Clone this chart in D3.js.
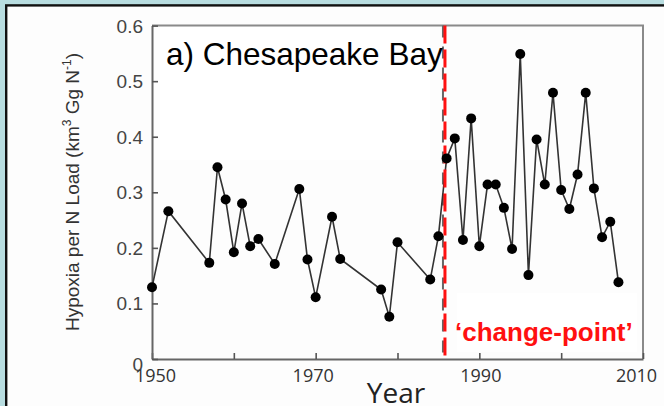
<!DOCTYPE html>
<html>
<head>
<meta charset="utf-8">
<script src="https://cdn.jsdelivr.net/npm/d3@7"></script>
<style>
  html, body { margin: 0; padding: 0; background: #b8dde0; }
  svg { display: block; }
</style>
</head>
<body>
<svg id="chart" width="664" height="406"></svg>
<script>
// Hypoxic volume per unit nitrogen load, Chesapeake Bay
const years = [1950, 1952, 1957, 1958, 1959, 1960, 1961, 1962, 1963, 1965,
               1968, 1969, 1970, 1972, 1973, 1978, 1979, 1980, 1984, 1985,
               1986, 1987, 1988, 1989, 1990, 1991, 1992, 1993, 1994, 1995,
               1996, 1997, 1998, 1999, 2000, 2001, 2002, 2003, 2004, 2005,
               2006, 2007];
const hypoxiaPerLoad = [0.129, 0.266, 0.173, 0.345, 0.287, 0.192, 0.280, 0.203, 0.216, 0.171,
                        0.306, 0.179, 0.111, 0.256, 0.180, 0.125, 0.076, 0.210, 0.143, 0.221,
                        0.361, 0.397, 0.214, 0.433, 0.203, 0.314, 0.314, 0.272, 0.198, 0.549,
                        0.151, 0.395, 0.314, 0.479, 0.304, 0.270, 0.332, 0.479, 0.307, 0.219,
                        0.247, 0.138];
const xTicks = [1950, 1960, 1970, 1980, 1990, 2000, 2010];
const xTickLabels = ["1950", "", "1970", "", "1990", "", "2010"];
const yTicks = [0, 0.1, 0.2, 0.3, 0.4, 0.5, 0.6];
const yTickLabels = ["0", "0.1", "0.2", "0.3", "0.4", "0.5", "0.6"];
const changePointYear = 1985.8;

const svg = d3.select("#chart");

// white panel with black frame
svg.append("rect")
  .attr("x", 6.2).attr("y", 5.4)
  .attr("width", 700).attr("height", 500)
  .attr("fill", "#fdfdfd")
  .attr("stroke", "#111").attr("stroke-width", 2.4);

const plot = { left: 152, right: 643, top: 25.6, bottom: 359 };

const x = d3.scaleLinear().domain([1950, 2010]).range([plot.left, plot.right]);
const y = d3.scaleLinear().domain([0, 0.6]).range([plot.bottom, plot.top]);

// white backing boxes behind the annotations
svg.append("rect").attr("x", 160).attr("y", 27).attr("width", 270).attr("height", 133).attr("fill", "#fff");
svg.append("rect").attr("x", 457).attr("y", 293).attr("width", 180).attr("height", 59).attr("fill", "#fff");

// plot frame (top and right sides)
svg.append("path")
  .attr("d", `M${plot.left},${plot.top}H${plot.right}V${plot.bottom}`)
  .attr("fill", "none").attr("stroke", "#8a8a8a").attr("stroke-width", 2);

// x axis
const xAxis = d3.axisBottom(x)
  .tickValues(xTicks)
  .tickFormat((d, i) => xTickLabels[i])
  .tickSizeInner(-6).tickSizeOuter(0).tickPadding(10);
const gx = svg.append("g")
  .attr("transform", `translate(0,${plot.bottom})`)
  .call(xAxis);
gx.select(".domain").attr("stroke", "#666").attr("stroke-width", 2);
gx.selectAll(".tick line").attr("stroke", "#555").attr("stroke-width", 1.6);
gx.selectAll(".tick text")
  .attr("font-family", "'Open Sans', sans-serif")
  .attr("font-size", 18)
  .attr("fill", "#333")
  .attr("dx", d => d === 1950 ? 3 : d === 2010 ? -7 : d === 1970 ? -3 : 1);

// y axis
const yAxis = d3.axisLeft(y)
  .tickValues(yTicks)
  .tickFormat((d, i) => yTickLabels[i])
  .tickSizeInner(-6).tickSizeOuter(0).tickPadding(9);
const gy = svg.append("g")
  .attr("transform", `translate(${plot.left},0)`)
  .call(yAxis);
gy.select(".domain").attr("stroke", "#666").attr("stroke-width", 2);
gy.selectAll(".tick line").attr("stroke", "#555").attr("stroke-width", 1.6);
gy.selectAll(".tick text")
  .attr("font-family", "'Liberation Sans', Arial, sans-serif")
  .attr("font-size", 19)
  .attr("fill", "#444")
  .attr("dy", d => d === 0 ? "0.62em" : "0.34em");

// change-point marker: underlying grey dashes plus red dashes
svg.append("line")
  .attr("x1", x(changePointYear) - 2).attr("x2", x(changePointYear) - 2)
  .attr("y1", plot.top).attr("y2", plot.bottom)
  .attr("stroke", "#666").attr("stroke-width", 2)
  .attr("stroke-dasharray", "12,9");

// data line and points
const pts = years.map((yr, i) => [yr, hypoxiaPerLoad[i]]);
svg.append("path")
  .datum(pts)
  .attr("fill", "none")
  .attr("stroke", "#333")
  .attr("stroke-width", 1.6)
  .attr("d", d3.line().x(d => x(d[0])).y(d => y(d[1])));

svg.append("line")
  .attr("x1", x(changePointYear)).attr("x2", x(changePointYear))
  .attr("y1", plot.top).attr("y2", plot.bottom)
  .attr("stroke", "#ff1010").attr("stroke-width", 3)
  .attr("stroke-dasharray", "18,6");

svg.append("g").selectAll("circle")
  .data(pts)
  .join("circle")
  .attr("cx", d => x(d[0]))
  .attr("cy", d => y(d[1]))
  .attr("r", 5)
  .attr("fill", "#000");

// title
svg.append("text")
  .attr("x", 166).attr("y", 65)
  .attr("font-family", "'Liberation Sans', Arial, sans-serif")
  .attr("font-size", 31.5)
  .attr("fill", "#000")
  .text("a) Chesapeake Bay");

// change-point label
svg.append("text")
  .attr("x", 455).attr("y", 341)
  .attr("font-family", "'Liberation Sans', Arial, sans-serif")
  .attr("font-size", 26)
  .attr("font-weight", "bold")
  .attr("fill", "#ff1010")
  .text("\u2018change-point\u2019");

// axis titles
svg.append("text")
  .attr("x", 396).attr("y", 403)
  .attr("text-anchor", "middle")
  .attr("font-family", "'Open Sans', sans-serif")
  .attr("font-size", 28)
  .attr("fill", "#222")
  .text("Year");

const yTitle = svg.append("text")
  .attr("transform", "translate(79,192) rotate(-90)")
  .attr("text-anchor", "middle")
  .attr("font-family", "'Liberation Sans', Arial, sans-serif")
  .attr("font-size", 19)
  .attr("fill", "#333");
yTitle.append("tspan").text("Hypoxia per N Load (km");
yTitle.append("tspan").attr("font-size", 12).attr("dy", -8).text("3");
yTitle.append("tspan").attr("dy", 8).text(" Gg N");
yTitle.append("tspan").attr("font-size", 12).attr("dy", -8).text("-1");
yTitle.append("tspan").attr("dy", 8).text(")");
</script>
</body>
</html>
